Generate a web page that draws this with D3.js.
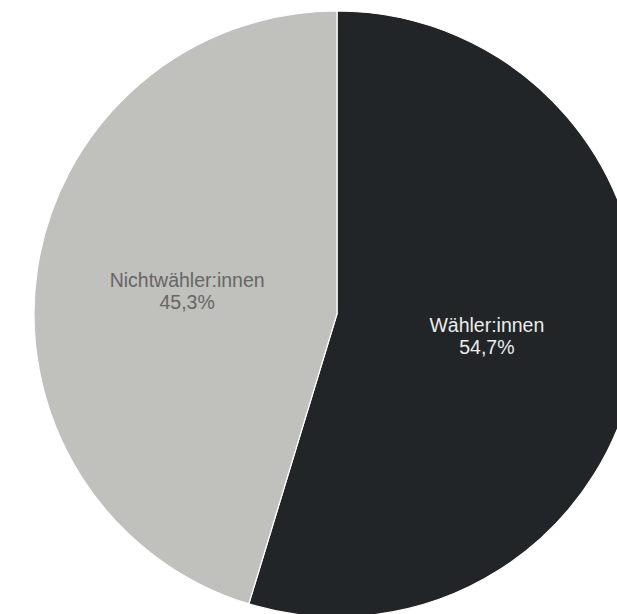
<!DOCTYPE html>
<html>
<head>
<meta charset="utf-8">
<script src="https://cdn.jsdelivr.net/npm/d3@7"></script>
<style>
  html, body { margin: 0; padding: 0; background: #fff; overflow: hidden; }
  svg { display: block; }
</style>
</head>
<body>
<svg id="chart" width="617" height="614"></svg>
<script>
const categories = ["Wähler:innen", "Nichtwähler:innen"];
const values = [54.7, 45.3];
const valueLabels = ["54,7%", "45,3%"];
const colors = ["#212527", "#c0c0bd"];
const textColors = ["#ececec", "#666666"];

const width = 617, height = 614;
const cx = 337, cy = 314, radius = 303;

const data = categories.map((c, i) => ({ name: c, value: values[i], label: valueLabels[i], color: colors[i], text: textColors[i] }));

const svg = d3.select("#chart");
const g = svg.append("g").attr("transform", `translate(${cx},${cy})`);

const pie = d3.pie().sort(null).value(d => d.value);
const arc = d3.arc().innerRadius(0).outerRadius(radius);
const labelArc = d3.arc().innerRadius(radius * 0.5).outerRadius(radius * 0.5);

const arcs = pie(data);

g.selectAll("path")
  .data(arcs)
  .join("path")
  .attr("d", arc)
  .attr("fill", d => d.data.color)
  .attr("stroke", "#ffffff")
  .attr("stroke-width", 1.2);

const labels = g.selectAll("text")
  .data(arcs)
  .join("text")
  .attr("transform", d => `translate(${labelArc.centroid(d)})`)
  .attr("text-anchor", "middle")
  .attr("font-family", "Liberation Sans, Arial, sans-serif")
  .attr("font-size", "19.5px")
  .attr("fill", d => d.data.text);

labels.append("tspan")
  .attr("x", 0)
  .attr("y", -4.5)
  .text(d => d.data.name);
labels.append("tspan")
  .attr("x", 0)
  .attr("y", 17.5)
  .text(d => d.data.label);
</script>
</body>
</html>
